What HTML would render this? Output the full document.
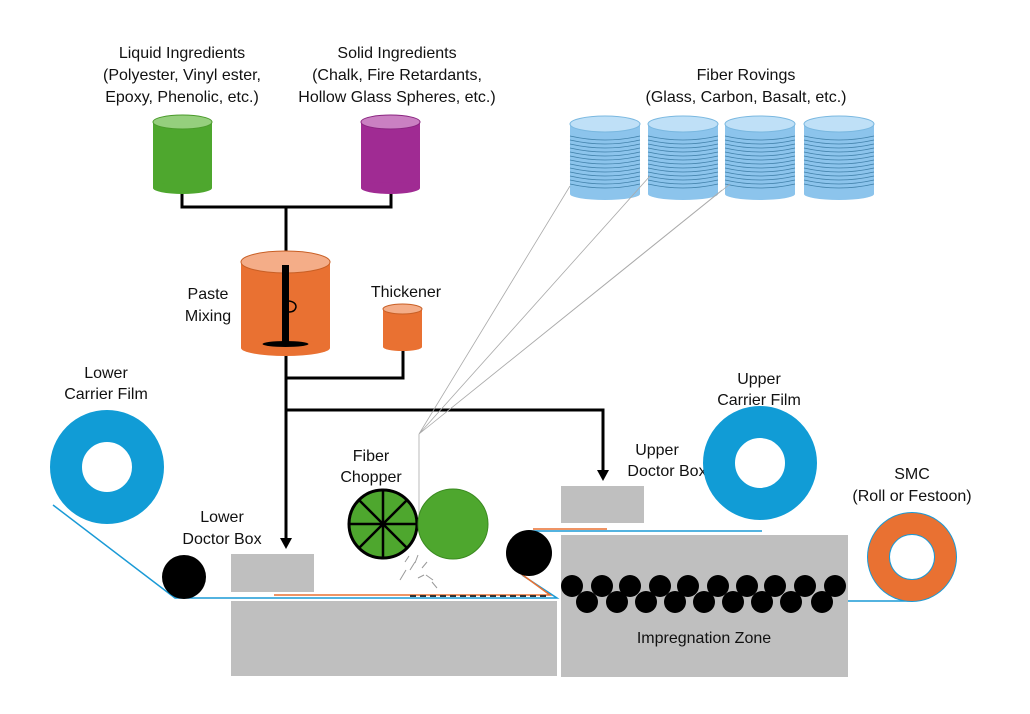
<!DOCTYPE html>
<html><head><meta charset="utf-8"><style>body{margin:0;background:#fff}svg{display:block}text{font-family:"Liberation Sans",sans-serif;font-size:16px;fill:#111;text-anchor:middle}</style></head><body>
<svg width="1030" height="714" viewBox="0 0 1030 714" xmlns="http://www.w3.org/2000/svg">
<defs>
<g id="rov">
<rect x="0" y="0" width="70" height="70" fill="#8cc4ec"/>
<ellipse cx="35" cy="70" rx="35" ry="6" fill="#8cc4ec"/>
<g stroke="#3f7fa8" stroke-width="0.8" fill="none">
<path d="M0,12 Q35,20 70,12M0,16 Q35,24 70,16M0,20 Q35,28 70,20M0,24 Q35,32 70,24M0,28 Q35,36 70,28M0,32 Q35,40 70,32M0,36 Q35,44 70,36M0,40 Q35,48 70,40M0,44 Q35,52 70,44M0,48 Q35,56 70,48M0,52 Q35,60 70,52M0,56 Q35,64 70,56M0,60 Q35,68 70,60"/>
</g>
<ellipse cx="35" cy="0" rx="35" ry="8" fill="#bfe0f7" stroke="#7ab8e0"/>
</g>
</defs>
<text x="182" y="58">Liquid Ingredients</text>
<text x="182" y="80">(Polyester, Vinyl ester,</text>
<text x="182" y="102">Epoxy, Phenolic, etc.)</text>
<text x="397" y="58">Solid Ingredients</text>
<text x="397" y="80">(Chalk, Fire Retardants,</text>
<text x="397" y="102">Hollow Glass Spheres, etc.)</text>
<text x="746" y="80">Fiber Rovings</text>
<text x="746" y="102">(Glass, Carbon, Basalt, etc.)</text>
<text x="208" y="299">Paste</text>
<text x="208" y="321">Mixing</text>
<text x="406" y="297">Thickener</text>
<text x="106" y="378">Lower</text>
<text x="106" y="399">Carrier Film</text>
<text x="371" y="461">Fiber</text>
<text x="371" y="482">Chopper</text>
<text x="222" y="522">Lower</text>
<text x="222" y="544">Doctor Box</text>
<text x="657" y="455">Upper</text>
<text x="667" y="476">Doctor Box</text>
<text x="759" y="384">Upper</text>
<text x="759" y="405">Carrier Film</text>
<text x="912" y="479">SMC</text>
<text x="912" y="501">(Roll or Festoon)</text>
<g stroke="#000" stroke-width="3" fill="none">
<path d="M182,188 V207 H391 V188"/>
<path d="M286,207 V252"/>
<path d="M286,352 V410 H603 V472"/>
<path d="M286,410 V540"/>
<path d="M403,350 V378 H286"/>
</g>
<path d="M280,538 H292 L286,549 Z" fill="#000"/>
<path d="M597,470 H609 L603,481 Z" fill="#000"/>
<rect x="153" y="122" width="59" height="66" fill="#4ea72e"/><ellipse cx="182.5" cy="188" rx="29.5" ry="6" fill="#4ea72e"/><ellipse cx="182.5" cy="122" rx="29.5" ry="7" fill="#95cf7d" stroke="#4a9a2b"/>
<rect x="361" y="122" width="59" height="66" fill="#a02b93"/><ellipse cx="390.5" cy="188" rx="29.5" ry="6" fill="#a02b93"/><ellipse cx="390.5" cy="122" rx="29.5" ry="7" fill="#ca80c2" stroke="#8a2580"/>
<rect x="241" y="262" width="89" height="86" fill="#e97132"/><ellipse cx="285.5" cy="348" rx="44.5" ry="8" fill="#e97132"/><ellipse cx="285.5" cy="262" rx="44.5" ry="11" fill="#f4ad88" stroke="#c85f25"/>
<rect x="282" y="265" width="7" height="80" fill="#000"/><ellipse cx="285.5" cy="344" rx="23" ry="3" fill="#000"/>
<path d="M289,301 q7,1 7,6 q-1,5 -7,5" stroke="#000" stroke-width="1.5" fill="none"/>
<rect x="383" y="309" width="39" height="38" fill="#e97132"/><ellipse cx="402.5" cy="347" rx="19.5" ry="4" fill="#e97132"/><ellipse cx="402.5" cy="309" rx="19.5" ry="5" fill="#f4ad88" stroke="#c85f25"/>
<use href="#rov" x="570" y="124"/><use href="#rov" x="648" y="124"/><use href="#rov" x="725" y="124"/><use href="#rov" x="804" y="124"/>
<g stroke="#aaa" stroke-width="0.8" fill="none">
<path d="M419,434 L570,186 M419,434 L650,176 M419,434 L722,190 M419,434 L730,184 M419,434 V522"/>
</g>
<g fill="#bfbfbf">
<rect x="231" y="554" width="83" height="38"/>
<rect x="231" y="601" width="326" height="75"/>
<rect x="561" y="486" width="83" height="37"/>
<rect x="561" y="535" width="287" height="142"/>
</g>
<g fill="none">
<path d="M53,505 L175,598 H557 L522,575" stroke="#1a9ad6" stroke-width="1.5"/>
<path d="M274,595 H550 L520,573" stroke="#e97132" stroke-width="1.5"/>
<path d="M410,596 H548" stroke="#333" stroke-width="2" stroke-dasharray="6,4"/>
<path d="M533,529 H607" stroke="#e97132" stroke-width="1.5"/>
<path d="M530,531 H762" stroke="#1a9ad6" stroke-width="1.5"/>
<path d="M848,601 H912" stroke="#1a9ad6" stroke-width="1.5"/>
</g>
<circle cx="107" cy="467" r="41" fill="none" stroke="#119cd6" stroke-width="32"/>
<circle cx="760" cy="463" r="41" fill="none" stroke="#119cd6" stroke-width="32"/>
<circle cx="912" cy="557" r="45" fill="#1a9ad6"/><circle cx="912" cy="557" r="33.5" fill="none" stroke="#e97132" stroke-width="21"/><circle cx="912" cy="557" r="22" fill="#fff"/>
<circle cx="184" cy="577" r="22" fill="#000"/>
<circle cx="529" cy="553" r="23" fill="#000"/>
<g fill="#000">
<circle cx="572" cy="586" r="11"/><circle cx="602" cy="586" r="11"/><circle cx="630" cy="586" r="11"/><circle cx="660" cy="586" r="11"/><circle cx="688" cy="586" r="11"/><circle cx="718" cy="586" r="11"/><circle cx="747" cy="586" r="11"/><circle cx="775" cy="586" r="11"/><circle cx="805" cy="586" r="11"/><circle cx="835" cy="586" r="11"/>
<circle cx="587" cy="602" r="11"/><circle cx="617" cy="602" r="11"/><circle cx="646" cy="602" r="11"/><circle cx="675" cy="602" r="11"/><circle cx="704" cy="602" r="11"/><circle cx="733" cy="602" r="11"/><circle cx="762" cy="602" r="11"/><circle cx="791" cy="602" r="11"/><circle cx="822" cy="602" r="11"/>
</g>
<text x="704" y="643">Impregnation Zone</text>
<circle cx="383" cy="524" r="34" fill="#4ea72e" stroke="#000" stroke-width="3"/>
<g stroke="#000" stroke-width="2.5"><path d="M349,524 H417 M383,490 V558 M359,500 L407,548 M407,500 L359,548"/></g>
<circle cx="453" cy="524" r="35" fill="#4ea72e" stroke="#3a8a20" stroke-width="1"/>
<g stroke="#999" stroke-width="1"><path d="M400,580 l6,-10 M410,570 l5,-8 M418,555 l-3,8 M422,568 l5,-6 M426,575 l7,5 M405,562 l4,-6 M432,582 l5,6 M418,578 l6,-3"/></g>
</svg>
</body></html>
